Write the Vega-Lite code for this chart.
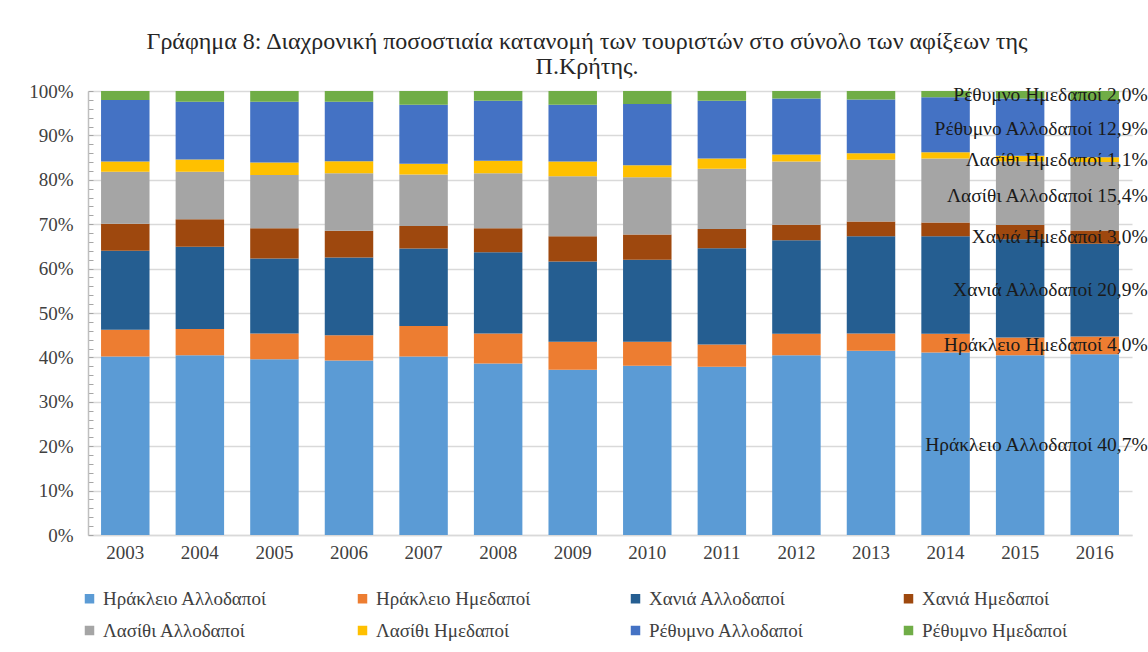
{
  "$schema": "https://vega.github.io/schema/vega-lite/v6.json",
  "width": 1044,
  "height": 444,
  "autosize": {"type": "none"},
  "padding": {"left": 88, "top": 91, "right": 16, "bottom": 117},
  "background": "white",
  "title": {
    "text": ["Γράφημα 8: Διαχρονική ποσοστιαία κατανομή των τουριστών στο σύνολο των αφίξεων της", "Π.Κρήτης."],
    "font": "Liberation Serif",
    "fontSize": 24,
    "fontWeight": "normal",
    "color": "#262626",
    "lineHeight": 25,
    "offset": 3,
    "dx": -23
  },
  "data": {
    "values": [
      {"year": "2003", "Ηράκλειο Αλλοδαποί": 40.2, "Ηράκλειο Ημεδαποί": 6.0, "Χανιά Αλλοδαποί": 17.8, "Χανιά Ημεδαποί": 6.1, "Λασίθι Αλλοδαποί": 11.7, "Λασίθι Ημεδαποί": 2.3, "Ρέθυμνο Αλλοδαποί": 13.9, "Ρέθυμνο Ημεδαποί": 2.0},
      {"year": "2004", "Ηράκλειο Αλλοδαποί": 40.5, "Ηράκλειο Ημεδαποί": 5.9, "Χανιά Αλλοδαποί": 18.5, "Χανιά Ημεδαποί": 6.2, "Λασίθι Αλλοδαποί": 10.7, "Λασίθι Ημεδαποί": 2.8, "Ρέθυμνο Αλλοδαποί": 13.0, "Ρέθυμνο Ημεδαποί": 2.4},
      {"year": "2005", "Ηράκλειο Αλλοδαποί": 39.6, "Ηράκλειο Ημεδαποί": 5.8, "Χανιά Αλλοδαποί": 16.9, "Χανιά Ημεδαποί": 6.8, "Λασίθι Αλλοδαποί": 12.0, "Λασίθι Ημεδαποί": 2.8, "Ρέθυμνο Αλλοδαποί": 13.7, "Ρέθυμνο Ημεδαποί": 2.4},
      {"year": "2006", "Ηράκλειο Αλλοδαποί": 39.3, "Ηράκλειο Ημεδαποί": 5.7, "Χανιά Αλλοδαποί": 17.5, "Χανιά Ημεδαποί": 6.0, "Λασίθι Αλλοδαποί": 13.0, "Λασίθι Ημεδαποί": 2.7, "Ρέθυμνο Αλλοδαποί": 13.4, "Ρέθυμνο Ημεδαποί": 2.4},
      {"year": "2007", "Ηράκλειο Αλλοδαποί": 40.2, "Ηράκλειο Ημεδαποί": 6.9, "Χανιά Αλλοδαποί": 17.4, "Χανιά Ημεδαποί": 5.1, "Λασίθι Αλλοδαποί": 11.6, "Λασίθι Ημεδαποί": 2.4, "Ρέθυμνο Αλλοδαποί": 13.3, "Ρέθυμνο Ημεδαποί": 3.1},
      {"year": "2008", "Ηράκλειο Αλλοδαποί": 38.6, "Ηράκλειο Ημεδαποί": 6.8, "Χανιά Αλλοδαποί": 18.3, "Χανιά Ημεδαποί": 5.4, "Λασίθι Αλλοδαποί": 12.4, "Λασίθι Ημεδαποί": 2.8, "Ρέθυμνο Αλλοδαποί": 13.5, "Ρέθυμνο Ημεδαποί": 2.2},
      {"year": "2009", "Ηράκλειο Αλλοδαποί": 37.2, "Ηράκλειο Ημεδαποί": 6.3, "Χανιά Αλλοδαποί": 18.1, "Χανιά Ημεδαποί": 5.7, "Λασίθι Αλλοδαποί": 13.5, "Λασίθι Ημεδαποί": 3.3, "Ρέθυμνο Αλλοδαποί": 12.8, "Ρέθυμνο Ημεδαποί": 3.1},
      {"year": "2010", "Ηράκλειο Αλλοδαποί": 38.1, "Ηράκλειο Ημεδαποί": 5.4, "Χανιά Αλλοδαποί": 18.5, "Χανιά Ημεδαποί": 5.7, "Λασίθι Αλλοδαποί": 12.9, "Λασίθι Ημεδαποί": 2.7, "Ρέθυμνο Αλλοδαποί": 13.8, "Ρέθυμνο Ημεδαποί": 2.9},
      {"year": "2011", "Ηράκλειο Αλλοδαποί": 37.9, "Ηράκλειο Ημεδαποί": 5.0, "Χανιά Αλλοδαποί": 21.7, "Χανιά Ημεδαποί": 4.3, "Λασίθι Αλλοδαποί": 13.6, "Λασίθι Ημεδαποί": 2.3, "Ρέθυμνο Αλλοδαποί": 13.0, "Ρέθυμνο Ημεδαποί": 2.2},
      {"year": "2012", "Ηράκλειο Αλλοδαποί": 40.5, "Ηράκλειο Ημεδαποί": 4.8, "Χανιά Αλλοδαποί": 21.1, "Χανιά Ημεδαποί": 3.5, "Λασίθι Αλλοδαποί": 14.2, "Λασίθι Ημεδαποί": 1.6, "Ρέθυμνο Αλλοδαποί": 12.6, "Ρέθυμνο Ημεδαποί": 1.7},
      {"year": "2013", "Ηράκλειο Αλλοδαποί": 41.5, "Ηράκλειο Ημεδαποί": 3.9, "Χανιά Αλλοδαποί": 21.9, "Χανιά Ημεδαποί": 3.3, "Λασίθι Αλλοδαποί": 13.9, "Λασίθι Ημεδαποί": 1.5, "Ρέθυμνο Αλλοδαποί": 12.1, "Ρέθυμνο Ημεδαποί": 1.9},
      {"year": "2014", "Ηράκλειο Αλλοδαποί": 41.1, "Ηράκλειο Ημεδαποί": 4.2, "Χανιά Αλλοδαποί": 22.0, "Χανιά Ημεδαποί": 3.1, "Λασίθι Αλλοδαποί": 14.4, "Λασίθι Ημεδαποί": 1.4, "Ρέθυμνο Αλλοδαποί": 12.4, "Ρέθυμνο Ημεδαποί": 1.4},
      {"year": "2015", "Ηράκλειο Αλλοδαποί": 40.5, "Ηράκλειο Ημεδαποί": 4.0, "Χανιά Αλλοδαποί": 22.1, "Χανιά Ημεδαποί": 3.2, "Λασίθι Αλλοδαποί": 14.3, "Λασίθι Ημεδαποί": 1.3, "Ρέθυμνο Αλλοδαποί": 12.9, "Ρέθυμνο Ημεδαποί": 1.7},
      {"year": "2016", "Ηράκλειο Αλλοδαποί": 40.7, "Ηράκλειο Ημεδαποί": 4.0, "Χανιά Αλλοδαποί": 20.9, "Χανιά Ημεδαποί": 3.0, "Λασίθι Αλλοδαποί": 15.4, "Λασίθι Ημεδαποί": 1.1, "Ρέθυμνο Αλλοδαποί": 12.9, "Ρέθυμνο Ημεδαποί": 2.0}
    ]
  },
  "transform": [
    {"fold": ["Ηράκλειο Αλλοδαποί", "Ηράκλειο Ημεδαποί", "Χανιά Αλλοδαποί", "Χανιά Ημεδαποί", "Λασίθι Αλλοδαποί", "Λασίθι Ημεδαποί", "Ρέθυμνο Αλλοδαποί", "Ρέθυμνο Ημεδαποί"], "as": ["s", "v"]},
    {"calculate": "indexof(['Ηράκλειο Αλλοδαποί', 'Ηράκλειο Ημεδαποί', 'Χανιά Αλλοδαποί', 'Χανιά Ημεδαποί', 'Λασίθι Αλλοδαποί', 'Λασίθι Ημεδαποί', 'Ρέθυμνο Αλλοδαποί', 'Ρέθυμνο Ημεδαποί'], datum.s)", "as": "o"},
    {"stack": "v", "groupby": ["year"], "sort": [{"field": "o", "order": "ascending"}], "as": ["y0", "y1"]},
    {"calculate": "(datum.y0 + datum.y1) / 2", "as": "mid"},
    {"calculate": "datum.s + ' ' + replace(format(datum.v, '.1f'), '.', ',') + '%'", "as": "label"}
  ],
  "layer": [
    {
      "mark": {"type": "bar"},
      "encoding": {
        "x": {
          "field": "year", "type": "nominal",
          "scale": {"paddingInner": 0.35, "paddingOuter": 0.175},
          "axis": {
            "title": null, "labelAngle": 0, "ticks": false, "grid": false,
            "domainColor": "#d9d9d9", "domainWidth": 1.5,
            "labelFont": "Liberation Serif", "labelFontSize": 19, "labelColor": "#404040",
            "labelPadding": 8
          }
        },
        "y": {
          "field": "y0", "type": "quantitative",
          "scale": {"domain": [0, 100], "nice": false},
          "axis": {
            "title": null,
            "values": [0, 2, 4, 6, 8, 10, 12, 14, 16, 18, 20, 22, 24, 26, 28, 30, 32, 34, 36, 38, 40, 42, 44, 46, 48, 50, 52, 54, 56, 58, 60, 62, 64, 66, 68, 70, 72, 74, 76, 78, 80, 82, 84, 86, 88, 90, 92, 94, 96, 98, 100],
            "tickCount": 100,
            "labelExpr": "datum.value % 10 === 0 ? datum.value + '%' : ''",
            "labelOverlap": false,
            "labelFont": "Liberation Serif", "labelFontSize": 19, "labelColor": "#404040",
            "labelPadding": 20,
            "tickSize": -5, "tickColor": "#a6a6a6", "tickWidth": 1,
            "domainColor": "#bfbfbf", "domainWidth": 1.5,
            "gridColor": "#d9d9d9", "gridWidth": 1.5,
            "gridOpacity": {"condition": {"test": "datum.value % 10 === 0", "value": 1}, "value": 0}
          }
        },
        "y2": {"field": "y1"},
        "color": {
          "field": "s", "type": "nominal",
          "scale": {
            "domain": ["Ηράκλειο Αλλοδαποί", "Ηράκλειο Ημεδαποί", "Χανιά Αλλοδαποί", "Χανιά Ημεδαποί", "Λασίθι Αλλοδαποί", "Λασίθι Ημεδαποί", "Ρέθυμνο Αλλοδαποί", "Ρέθυμνο Ημεδαποί"],
            "range": ["#5B9BD5", "#ED7D31", "#255E91", "#9E480E", "#A5A5A5", "#FFC000", "#4472C4", "#70AD47"]
          },
          "legend": {
            "title": null, "orient": "bottom", "direction": "horizontal", "columns": 4,
            "gridAlign": "all", "columnPadding": 89, "rowPadding": 12, "offset": 27,
            "symbolType": "square", "symbolSize": 90, "symbolStrokeWidth": 0, "symbolOffset": -8,
            "labelFont": "Liberation Serif", "labelFontSize": 19, "labelColor": "#404040",
            "labelOffset": 4, "labelLimit": 300
          }
        }
      }
    },
    {
      "transform": [{"filter": "datum.year === '2016'"}],
      "mark": {"type": "text", "align": "right", "baseline": "middle", "dx": 53, "font": "Liberation Serif", "fontSize": 19.5, "color": "#1a1a1a"},
      "encoding": {
        "x": {"field": "year", "type": "nominal"},
        "y": {"field": "mid", "type": "quantitative"},
        "text": {"field": "label"}
      }
    }
  ],
  "config": {
    "view": {"stroke": null}
  }
}
